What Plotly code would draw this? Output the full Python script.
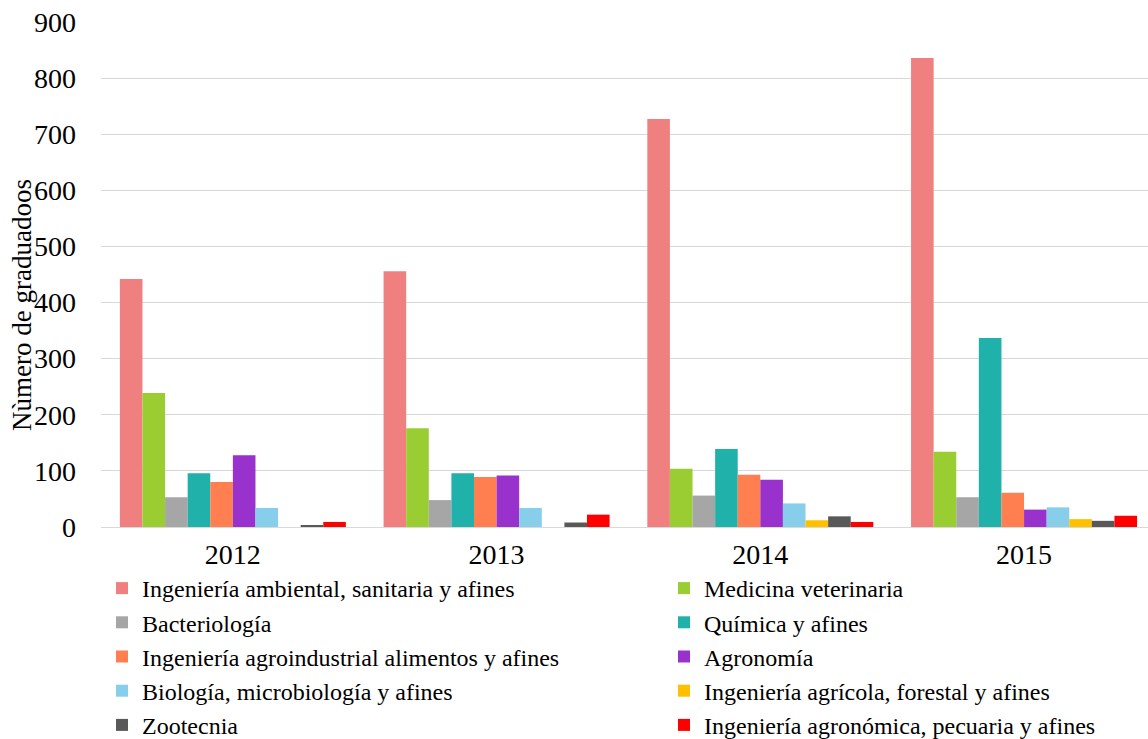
import plotly.graph_objects as go

years = ["2012", "2013", "2014", "2015"]

series_names = [
    "Ingeniería ambiental, sanitaria y afines",
    "Medicina veterinaria",
    "Bacteriología",
    "Química y afines",
    "Ingeniería agroindustrial alimentos y afines",
    "Agronomía",
    "Biología, microbiología y afines",
    "Ingeniería agrícola, forestal y afines",
    "Zootecnia",
    "Ingeniería agronómica, pecuaria y afines",
]

ambiental = [442, 456, 727, 836]
veterinaria = [239, 176, 104, 134]
bacteriologia = [53, 48, 56, 53]
quimica = [96, 96, 139, 337]
agroindustrial = [80, 89, 93, 61]
agronomia = [128, 92, 84, 31]
biologia = [34, 34, 42, 35]
agricola = [0, 0, 12, 14]
zootecnia = [2, 8, 19, 11]
agronomica = [9, 22, 9, 20]

series_values = [
    ambiental, veterinaria, bacteriologia, quimica, agroindustrial,
    agronomia, biologia, agricola, zootecnia, agronomica,
]

colors = [
    "#F08080", "#9ACD32", "#A6A6A6", "#20B2AA", "#FF7F50",
    "#9932CC", "#87CEEB", "#FFC000", "#595959", "#FF0000",
]

y_title = "Nùmero de graduadoos"

FONT = "Liberation Serif, Times New Roman, serif"
W, H = 1148, 739
ML, MR, MT, MB = 101, 0, 22, 212
PLOT_W, PLOT_H = W - ML - MR, H - MT - MB

fig = go.Figure()
for i, (name, vals, col) in enumerate(zip(series_names, series_values, colors)):
    # legend entries alternate between a left and a right column
    fig.add_trace(go.Bar(
        x=years, y=vals, name=name,
        marker=dict(color=col, line=dict(width=0)),
        legend="legend" if i % 2 == 0 else "legend2",
    ))

legend_style = dict(
    orientation="v",
    xref="container", yref="container",
    xanchor="left", yanchor="top",
    y=1 - 566 / H,
    font=dict(family=FONT, size=24, color="black"),
    bgcolor="rgba(0,0,0,0)",
    traceorder="normal",
    itemclick=False, itemdoubleclick=False,
)

# vertical axis title, drawn overlapping the tick labels as in the source layout
fig.add_annotation(
    text=y_title, textangle=-90,
    xref="paper", yref="paper",
    x=(22 - ML) / PLOT_W, y=(H - MB - 305) / PLOT_H,
    xanchor="center", yanchor="middle",
    showarrow=False,
    font=dict(family=FONT, size=27, color="black"),
)

fig.update_layout(
    width=W, height=H,
    margin=dict(l=ML, r=MR, t=MT, b=MB, autoexpand=False),
    paper_bgcolor="white", plot_bgcolor="white",
    barmode="group", bargap=0.143, bargroupgap=0,
    font=dict(family=FONT, size=28, color="black"),
    showlegend=True,
    legend=dict(legend_style, x=102 / W),
    legend2=dict(legend_style, x=664 / W),
    xaxis=dict(
        type="category",
        range=[-0.5, 3.47],
        showgrid=False, showline=False, zeroline=False,
        ticks="", ticklabelstandoff=8, tickangle=0,
        tickfont=dict(family=FONT, size=28, color="black"),
    ),
    yaxis=dict(
        range=[0, 900], dtick=100,
        showgrid=True, gridcolor="#D9D9D9", gridwidth=1,
        zeroline=True, zerolinecolor="#D9D9D9", zerolinewidth=1,
        showline=False, ticks="", ticklabelstandoff=24,
        tickfont=dict(family=FONT, size=28, color="black"),
    ),
)

fig.write_html("out.html")
